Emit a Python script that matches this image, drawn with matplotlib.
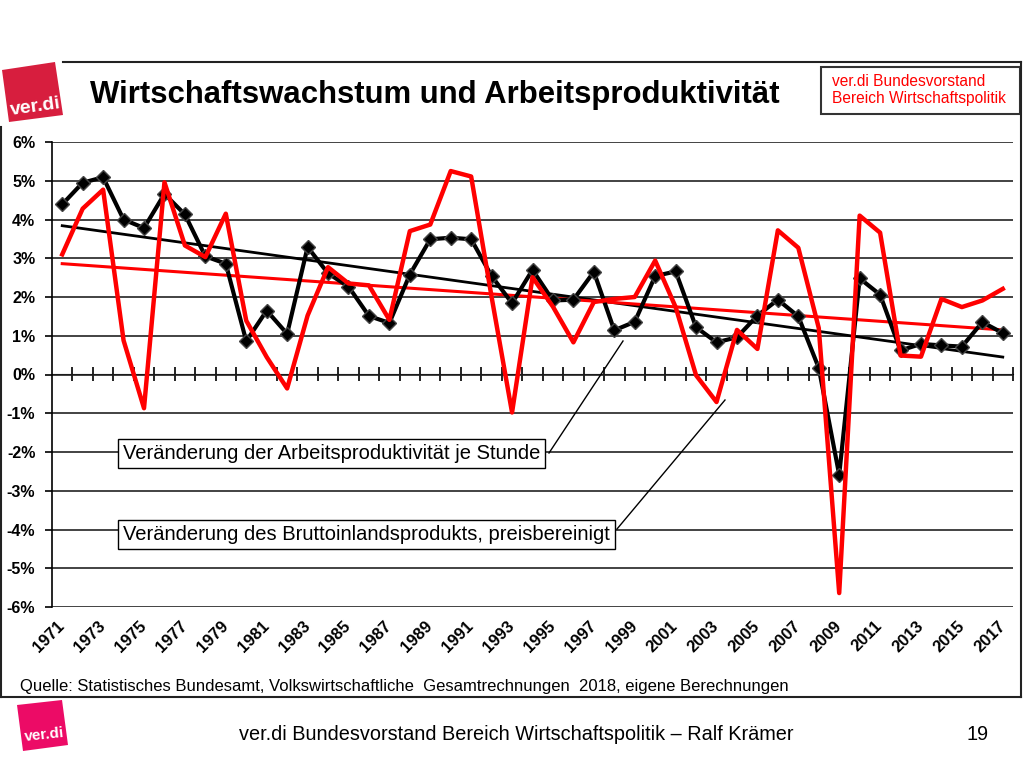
import matplotlib.pyplot as plt
import numpy as np
from matplotlib.lines import Line2D
from matplotlib.patches import Polygon, Rectangle

plt.rcParams['font.family'] = ['Liberation Sans', 'DejaVu Sans']

# Jahre 1971-2017
years = list(range(1971, 2018))

# Veraenderung der Arbeitsproduktivitaet je Stunde (%)
prod = [4.39, 4.95, 5.09, 4.00, 3.78, 4.66, 4.13, 3.05, 2.86, 0.86,
        1.65, 1.05, 3.29, 2.61, 2.27, 1.51, 1.33, 2.58, 3.49, 3.53,
        3.49, 2.54, 1.84, 2.70, 1.91, 1.93, 2.65, 1.14, 1.36, 2.54,
        2.66, 1.22, 0.83, 0.96, 1.52, 1.93, 1.50, 0.17, -2.59, 2.48,
        2.06, 0.62, 0.79, 0.75, 0.72, 1.35, 1.07]

# Veraenderung des BIP, preisbereinigt (%)
gdp = [3.10, 4.28, 4.77, 0.88, -0.87, 4.96, 3.33, 3.03, 4.15, 1.39,
       0.45, -0.36, 1.52, 2.77, 2.35, 2.30, 1.41, 3.70, 3.87, 5.25,
       5.11, 2.00, -0.98, 2.51, 1.75, 0.83, 1.87, 1.95, 2.00, 2.94,
       1.74, -0.02, -0.71, 1.15, 0.66, 3.72, 3.27, 1.20, -5.64, 4.10,
       3.66, 0.49, 0.46, 1.95, 1.74, 1.91, 2.21]

# lineare Trends (Anfangs- und Endwert)
trend_prod = [3.84, 0.45]
trend_gdp = [2.86, 1.15]

W, H = 1024, 768


def px(x, y):
    # Pixel -> Figure-Koordinaten
    return (x / W, 1 - y / H)


fig = plt.figure(figsize=(10.24, 7.68), dpi=100)

# Rahmen
for (x0, y0), (x1, y1) in [((63, 62), (1021, 62)), ((1021, 62), (1021, 697)),
                           ((0, 697), (1021, 697)), ((1, 127), (1, 697))]:
    a, b = px(x0, y0)
    c, d = px(x1, y1)
    fig.add_artist(Line2D([a, c], [b, d], color='#222222', lw=1.5))

# Logo oben
fig.add_artist(Polygon([px(2, 70), px(55, 62), px(63, 115), px(9, 122)],
                       closed=True, fc='#D71E3E', ec='none'))
fig.text(*px(35, 107), 'ver.di', color='white', fontsize=14, fontweight='bold',
         ha='center', va='center', rotation=8)

# Titel
fig.text(*px(90, 95), 'Wirtschaftswachstum und Arbeitsproduktivität',
         fontsize=22.4, fontweight='bold', ha='left', va='center')

# roter Kasten rechts oben
x0, y0 = px(821, 114)
x1, y1 = px(1020, 67)
fig.add_artist(Rectangle((x0, y0), x1 - x0, y1 - y0, fc='white', ec='#333333',
                         lw=1.5, transform=fig.transFigure))
fig.text(*px(832, 90), 'ver.di Bundesvorstand\nBereich Wirtschaftspolitik',
         color='#FF0000', fontsize=11.2, ha='left', va='center', linespacing=1.1)

# Diagramm
ax = fig.add_axes([52 / W, 1 - 607 / H, 961 / W, 465 / H])
x = np.arange(len(years))

ax.plot([x[0], x[-1]], trend_prod, color='black', lw=2, zorder=3)
ax.plot([x[0], x[-1]], trend_gdp, color='#FF0000', lw=2.2, zorder=3)
ax.plot(x, prod, color='black', lw=3, marker='D', ms=7,
        mfc='black', mec='#444444', zorder=4)
ax.plot(x, gdp, color='#FF0000', lw=3.2, zorder=5)

ax.set_xlim(-0.5, len(years) - 0.5)
ax.set_ylim(-6, 6)
yt = np.arange(-6, 7)
ax.set_yticks(yt)
ax.set_yticklabels([f'{v}%' for v in yt], fontsize=11.5, fontweight='bold')
ax.tick_params(axis='y', length=5, width=1.2, pad=7)
ax.grid(axis='y', color='#222222', lw=1.2)
ax.set_axisbelow(True)

ax.set_xticks(x[::2])
ax.set_xticklabels([str(y) for y in years[::2]], rotation=45, ha='right',
                   va='center', rotation_mode='anchor', fontsize=12,
                   fontweight='bold')
ax.tick_params(axis='x', length=0, pad=12)

for s in ['top', 'right', 'bottom']:
    ax.spines[s].set_visible(False)
ax.spines['left'].set_linewidth(1.2)

# Nulllinie mit Teilstrichen
sec = ax.secondary_xaxis(0.5)
sec.set_xticks(np.arange(0.5, len(years), 1))
sec.set_xticklabels([])
sec.tick_params(direction='inout', length=10, width=1.2)
sec.spines['bottom'].set_linewidth(1.2)

# Beschriftungen mit Verbindungslinien
fig.text(*px(123, 453.5), 'Veränderung der Arbeitsproduktivität je Stunde',
         fontsize=14.5, ha='left', va='center',
         bbox=dict(boxstyle='square,pad=0.25', fc='white', ec='black', lw=1))
fig.add_artist(Line2D([549 / W, 623 / W], [1 - 453 / H, 1 - 341 / H],
                      color='black', lw=1))
fig.text(*px(123, 534.5), 'Veränderung des Bruttoinlandsprodukts, preisbereinigt',
         fontsize=14.5, ha='left', va='center',
         bbox=dict(boxstyle='square,pad=0.25', fc='white', ec='black', lw=1))
fig.add_artist(Line2D([617 / W, 725 / W], [1 - 529 / H, 1 - 400 / H],
                      color='black', lw=1))

# Quelle
fig.text(*px(20, 686), 'Quelle: Statistisches Bundesamt, Volkswirtschaftliche  '
         'Gesamtrechnungen  2018, eigene Berechnungen', fontsize=12,
         ha='left', va='center')

# Fusszeile
fig.add_artist(Polygon([px(17, 705), px(62, 700), px(68, 745), px(23, 751)],
                       closed=True, fc='#EC0B66', ec='none'))
fig.text(*px(44, 735), 'ver.di', color='white', fontsize=11, fontweight='bold',
         ha='center', va='center', rotation=6)
fig.text(*px(516, 735), 'ver.di Bundesvorstand Bereich Wirtschaftspolitik – Ralf Krämer',
         fontsize=14.3, ha='center', va='center')
fig.text(*px(978, 735), '19', fontsize=14.3, ha='center', va='center')

fig.savefig('out.png', dpi=100)
